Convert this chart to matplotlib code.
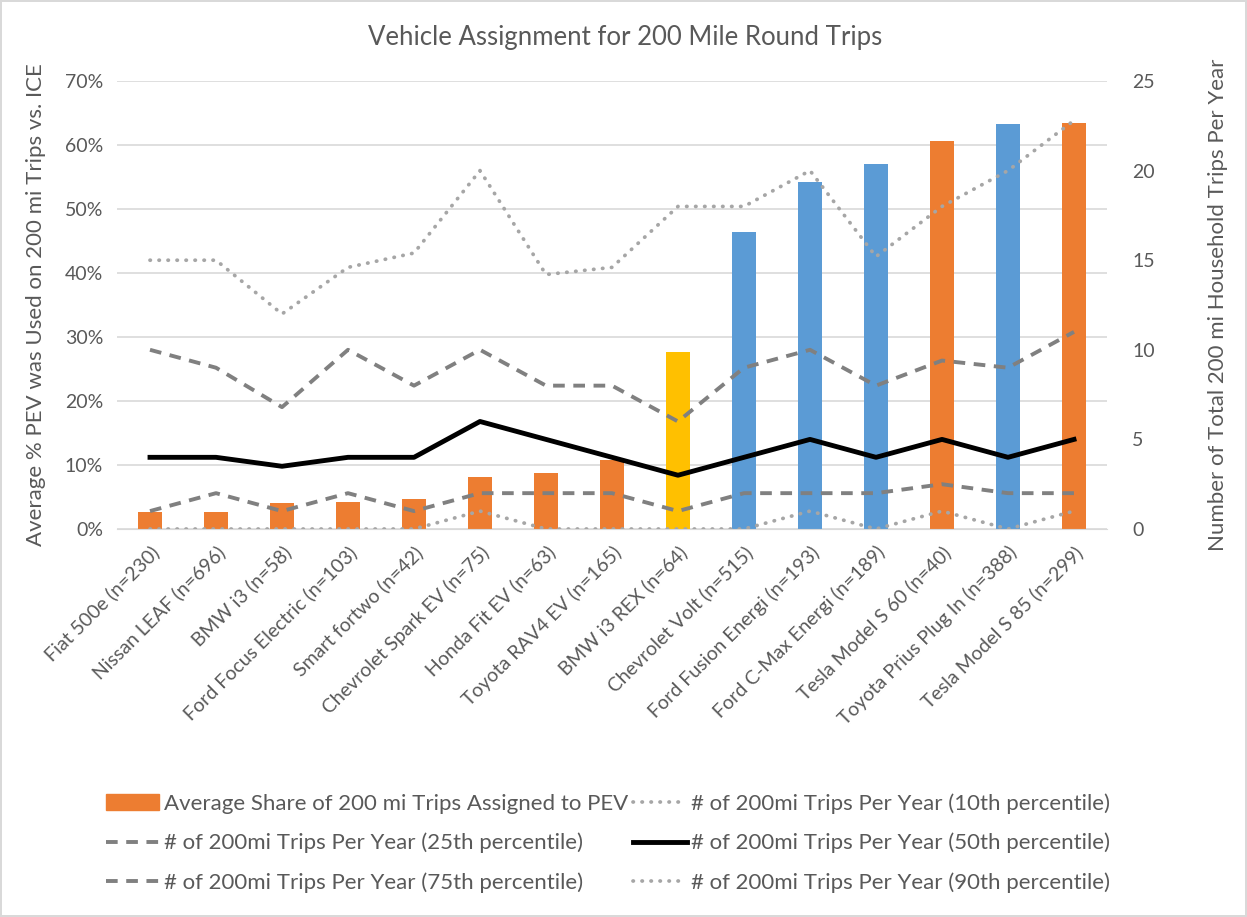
import matplotlib
matplotlib.use('Agg')
import matplotlib.pyplot as plt
from matplotlib.ticker import FuncFormatter
from matplotlib.patches import Patch
from matplotlib.lines import Line2D

plt.rcParams['font.family'] = ['Lato', 'DejaVu Sans']

vehicles = ['Fiat 500e (n=230)', 'Nissan LEAF (n=696)', 'BMW i3 (n=58)',
            'Ford Focus Electric (n=103)', 'Smart fortwo (n=42)',
            'Chevrolet Spark EV (n=75)', 'Honda Fit EV (n=63)',
            'Toyota RAV4 EV (n=165)', 'BMW i3 REX (n=64)',
            'Chevrolet Volt (n=515)', 'Ford Fusion Energi (n=193)',
            'Ford C-Max Energi (n=189)', 'Tesla Model S 60 (n=40)',
            'Toyota Prius Plug In (n=388)', 'Tesla Model S 85 (n=299)']

# share of 200 mi trips assigned to PEV (%)
share = [2.7, 2.7, 4.1, 4.2, 4.7, 8.1, 8.8, 10.8, 27.7, 46.4, 54.2, 57.0, 60.6, 63.3, 63.4]
bar_colors = ['#ED7D31'] * 8 + ['#FFC000'] + ['#5B9BD5'] * 3 + ['#ED7D31', '#5B9BD5', '#ED7D31']

# trips per year percentiles
p10 = [0, 0, 0, 0, 0, 1, 0, 0, 0, 0, 1, 0, 1, 0, 1]
p25 = [1, 2, 1, 2, 1, 2, 2, 2, 1, 2, 2, 2, 2.5, 2, 2]
p50 = [4, 4, 3.5, 4, 4, 6, 5, 4, 3, 4, 5, 4, 5, 4, 5]
p75 = [10, 9, 6.8, 10, 8, 10, 8, 8, 6, 9, 10, 8, 9.4, 9, 11]
p90 = [15, 15, 12, 14.6, 15.4, 20, 14.2, 14.6, 18, 18, 20, 15.2, 18, 20, 22.8]

W, H = 1247, 917
fig = plt.figure(figsize=(W / 100, H / 100), dpi=100)
fig.patch.set_edgecolor('#D9D9D9')
fig.patch.set_linewidth(1.5)

ax = fig.add_axes([117 / W, (H - 529) / H, 990 / W, 448 / H])
x = list(range(len(vehicles)))
ax.bar(x, share, width=0.35, color=bar_colors, zorder=2)
ax.set_xlim(-0.5, len(vehicles) - 0.5)
ax.set_ylim(0, 70)
ax.set_yticks(range(0, 71, 10))
ax.yaxis.set_major_formatter(FuncFormatter(lambda v, p: f'{v:.0f}%'))
ax.grid(axis='y', color='#D9D9D9', linewidth=1.2, zorder=0)
ax.set_axisbelow(True)
for s in ['top', 'left', 'right']:
    ax.spines[s].set_visible(False)
ax.spines['bottom'].set_color('#D9D9D9')
ax.tick_params(length=0, labelsize=14, colors='#595959', pad=10)
ax.set_xticks(x)
ax.set_xticklabels(vehicles, rotation=45, ha='right', rotation_mode='anchor')
ax.set_ylabel('Average % PEV was Used on 200 mi Trips vs. ICE', fontsize=16,
              color='#595959')
ax.yaxis.set_label_coords(-0.072, 0.5)

ax2 = ax.twinx()
ax2.set_ylim(0, 25)
ax2.set_yticks(range(0, 26, 5))
for s in ax2.spines.values():
    s.set_visible(False)
ax2.tick_params(length=0, labelsize=14, colors='#595959', pad=18)
ax2.set_ylabel('Number of Total 200 mi Household Trips Per Year', fontsize=16,
               color='#595959')
ax2.yaxis.set_label_coords(1.102, 0.5)

dot = dict(color='#A6A6A6', linewidth=2.7, linestyle=(0, (0.1, 2.3)), dash_capstyle='round')
dash = dict(color='#808080', linewidth=2.8, linestyle=(0, (3.0, 2.2)))
ax2.plot(x, p10, **dot)
ax2.plot(x, p25, **dash)
ax2.plot(x, p50, color='black', linewidth=3.5)
ax2.plot(x, p75, **dash)
ax2.plot(x, p90, **dot)

fig.text(625 / W, (H - 37) / H, 'Vehicle Assignment for 200 Mile Round Trips',
         fontsize=18.5, color='#595959', ha='center', va='center')

handles = [Patch(color='#ED7D31'), Line2D([], [], **dot),
           Line2D([], [], **dash), Line2D([], [], color='black', linewidth=3.5),
           Line2D([], [], **dash), Line2D([], [], **dot)]
labels = ['Average Share of 200 mi Trips Assigned to PEV',
          '# of 200mi Trips Per Year (10th percentile)',
          '# of 200mi Trips Per Year (25th percentile)',
          '# of 200mi Trips Per Year (50th percentile)',
          '# of 200mi Trips Per Year (75th percentile)',
          '# of 200mi Trips Per Year (90th percentile)']
order = [0, 2, 4, 1, 3, 5]
fig.legend([handles[i] for i in order], [labels[i] for i in order], ncol=2,
           loc='center', bbox_to_anchor=(608 / W, (H - 843) / H), frameon=False,
           fontsize=16, labelcolor='#595959', handlelength=2.4, handletextpad=0.2,
           columnspacing=0.25, labelspacing=0.85)

fig.savefig('out.png', dpi=100)
